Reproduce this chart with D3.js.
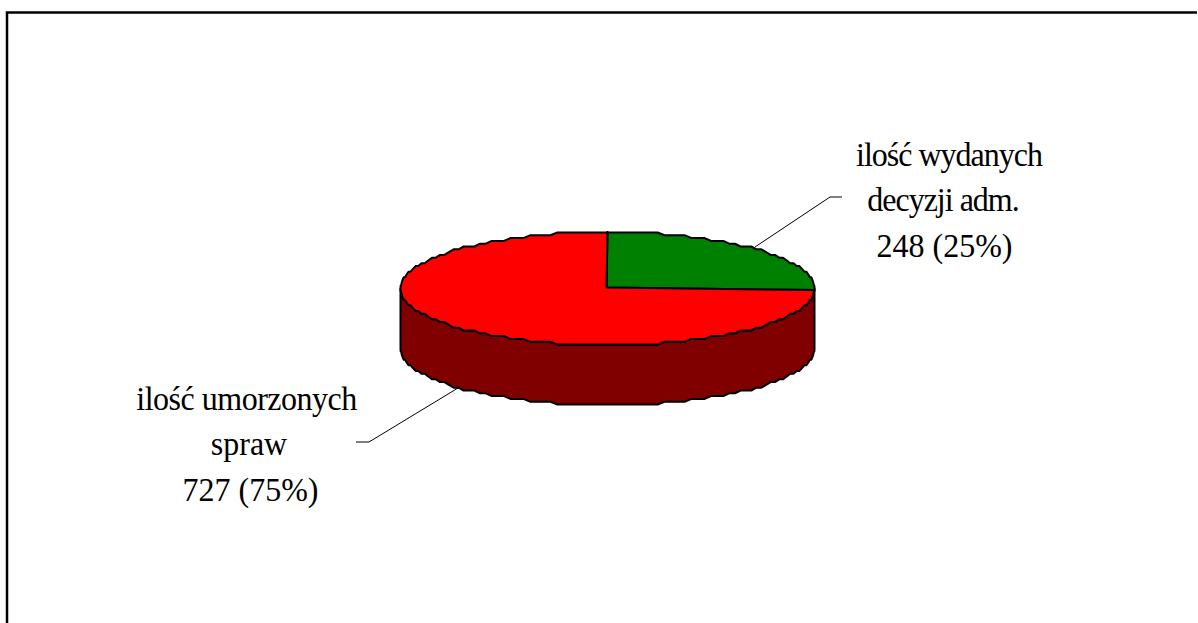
<!DOCTYPE html>
<html>
<head>
<meta charset="utf-8">
<script src="https://cdn.jsdelivr.net/npm/d3@7"></script>
<style>
  html, body { margin: 0; padding: 0; background: #fff; }
  svg { display: block; }
  text { font-family: "Liberation Serif", serif; font-size: 32px; fill: #000; text-anchor: middle; }
</style>
</head>
<body>
<div id="chart"></div>
<script>
const categories = ['ilość wydanych decyzji adm.', 'ilość umorzonych spraw'];
const values = [248, 727];
const percents = [25, 75];
const labelLines = [
  ['ilość wydanych', 'decyzji adm.', '248 (25%)'],
  ['ilość umorzonych', 'spraw', '727 (75%)'],
];
const topColors = ['#008000', '#ff0000'];
const sideColor = '#800000';

const width = 1198;
const height = 623;
const cx = 607.5;
const cy = 288.5;
const rx = 207;
const ry = 56.5;
const depth = 60;

const svg = d3.select('#chart').append('svg')
    .attr('width', width)
    .attr('height', height);

// chart frame, cropped on the right and at the bottom
svg.append('path')
    .attr('d', `M7,${height} V12.5 H${width - 1}`)
    .attr('fill', 'none')
    .attr('stroke', '#000')
    .attr('stroke-width', 2.5);

const pie = d3.pie().sort(null).startAngle(0).endAngle(2 * Math.PI);
const slices = pie(values);

// the original rim is a coarse polygon, snapping gives the same rough edge
const snap = 2.8;
const snapY = v => Math.round((v - cy) / snap) * snap + cy;

// squashed circle, angle 0 at 12 o'clock going clockwise
const exact = (a, dy = 0) => [cx + rx * Math.sin(a), cy + dy - ry * Math.cos(a)];
const project = (a, dy = 0) => [cx + rx * Math.sin(a), snapY(cy - ry * Math.cos(a)) + dy];

const arcPoints = (a0, a1, dy = 0) => {
  const step = Math.PI / 90;
  const first = Math.ceil(a0 / step);
  const last = Math.floor(a1 / step);
  const inner = d3.range(first, last + 1).map(i => project(i * step, dy));
  return [exact(a0, dy), ...inner, exact(a1, dy)];
};

const line = d3.line();

// leader lines go under the pie
const leaders = [
  [[755, 247], [830, 197], [842, 197]],
  [[458, 388], [369, 442], [356, 442]],
];
svg.selectAll('.leader')
    .data(leaders)
  .enter().append('path')
    .attr('class', 'leader')
    .attr('d', line)
    .attr('fill', 'none')
    .attr('stroke', '#000')
    .attr('stroke-width', 1);

// side wall, only the part of the rim facing the viewer
const sideFront = arcPoints(Math.PI / 2, (3 * Math.PI) / 2);
const sideBack = arcPoints(Math.PI / 2, (3 * Math.PI) / 2, depth).reverse();
svg.append('path')
    .attr('d', `${line(sideFront.concat(sideBack))}Z`)
    .attr('fill', sideColor)
    .attr('stroke', '#000')
    .attr('stroke-width', 2)
    .attr('stroke-linejoin', 'round');

// top faces
svg.selectAll('.slice')
    .data(slices)
  .enter().append('path')
    .attr('class', 'slice')
    .attr('d', d => `${line([[cx - 1, cy - 1]].concat(arcPoints(d.startAngle, d.endAngle)))}Z`)
    .attr('fill', (d, i) => topColors[i])
    .attr('stroke', '#000')
    .attr('stroke-width', 2)
    .attr('stroke-linejoin', 'round');

// each line was squeezed differently in the original, and all are a bit tall
const lineX = [[949, 943, 944.5], [246.5, 249, 250.5]];
const lineY = [[165.5, 211, 256.5], [410, 455, 501]];
const lineSpacing = [[-1, -1, 0], [-0.5, 0, 0]];
const stretchY = 1.08;

labelLines.forEach((lines, i) => {
  svg.selectAll(`.label-${i}`)
      .data(lines)
    .enter().append('text')
      .attr('class', `label-${i}`)
      .attr('transform', (d, j) => `translate(${lineX[i][j]},${lineY[i][j]}) scale(1,${stretchY})`)
      .attr('letter-spacing', (d, j) => lineSpacing[i][j])
      .text(d => d);
});
</script>
</body>
</html>
